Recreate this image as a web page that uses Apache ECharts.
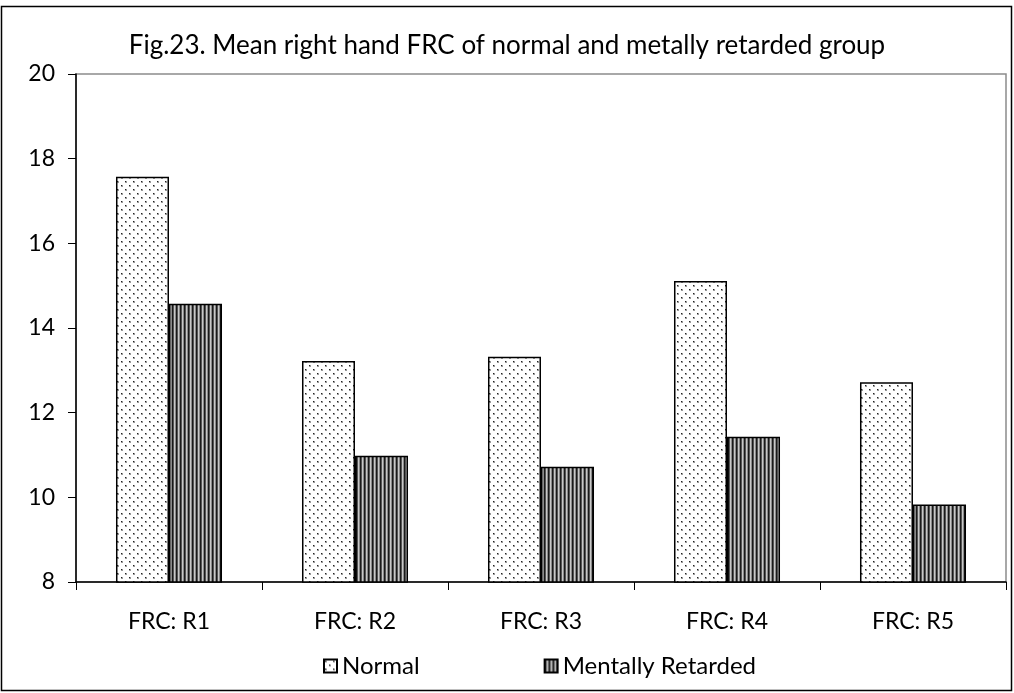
<!DOCTYPE html>
<html>
<head>
<meta charset="utf-8">
<script src="https://cdn.jsdelivr.net/npm/echarts@6/dist/echarts.min.js"></script>
<style>
  html, body { margin: 0; padding: 0; background: #fff; }
  #chart { width: 1014px; height: 693px; }
</style>
</head>
<body>
<div id="chart"></div>
<script>
// Mean right hand FRC by finger, two groups
const categories = ['FRC: R1', 'FRC: R2', 'FRC: R3', 'FRC: R4', 'FRC: R5'];
const normalValues = [17.57, 13.22, 13.32, 15.11, 12.72];
const retardedValues = [14.57, 10.98, 10.72, 11.43, 9.83];
const seriesNames = ['Normal', 'Mentally Retarded'];
const titleText = 'Fig.23. Mean right hand FRC of normal and metally retarded group';

const FONT = 'Lato, "Open Sans", sans-serif';

// Dotted fill: white tile with staggered dark dots
function dotPattern() {
  const c = document.createElement('canvas');
  c.width = 8; c.height = 8;
  const g = c.getContext('2d');
  g.fillStyle = '#ffffff';
  g.fillRect(0, 0, 8, 8);
  g.fillStyle = '#9a9a9a';
  g.fillRect(1, 1, 2, 2);
  g.fillRect(5, 5, 2, 2);
  g.fillStyle = '#222222';
  g.fillRect(1, 1, 1, 1);
  g.fillRect(5, 5, 1, 1);
  return c;
}

// Vertical stripe fill: alternating dark and light columns
function stripePattern() {
  const c = document.createElement('canvas');
  c.width = 4; c.height = 4;
  const g = c.getContext('2d');
  const cols = ['#1a1a1a', '#555555', '#c8c8c8', '#8a8a8a'];
  cols.forEach((col, i) => { g.fillStyle = col; g.fillRect(i, 0, 1, 4); });
  return c;
}

const dots = { image: dotPattern(), repeat: 'repeat' };
const stripes = { image: stripePattern(), repeat: 'repeat' };

const chart = echarts.init(document.getElementById('chart'), null, { renderer: 'canvas' });

chart.setOption({
  backgroundColor: '#ffffff',
  animation: false,
  title: {
    text: titleText,
    left: 'center',
    top: 28,
    textStyle: { fontFamily: FONT, fontSize: 26, fontWeight: 'normal', color: '#000' }
  },
  legend: {
    bottom: 10,
    left: 318,
    itemGap: 124,
    itemWidth: 13,
    itemHeight: 13,
    icon: 'rect',
    textStyle: { fontFamily: FONT, fontSize: 24, color: '#000' },
    data: seriesNames
  },
  grid: {
    left: 76, right: 8, top: 74, bottom: 111,
    show: true,
    borderColor: '#8c8c8c',
    borderWidth: 1.5
  },
  xAxis: {
    type: 'category',
    data: categories,
    axisLine: { lineStyle: { color: '#000', width: 1.5 } },
    axisTick: { show: true, length: 8, lineStyle: { color: '#000' } },
    axisLabel: { fontFamily: FONT, fontSize: 23, color: '#000', margin: 28 }
  },
  yAxis: {
    type: 'value',
    min: 8, max: 20, interval: 2,
    axisLine: { show: true, lineStyle: { color: '#000', width: 1.5 } },
    axisTick: { show: true, length: 8, lineStyle: { color: '#000' } },
    axisLabel: { fontFamily: FONT, fontSize: 23, color: '#000', margin: 21 },
    splitLine: { show: false }
  },
  series: [
    {
      name: seriesNames[0],
      type: 'bar',
      data: normalValues,
      barGap: '0%',
      barCategoryGap: '43%',
      itemStyle: { color: dots, borderColor: '#000', borderWidth: 1.5 }
    },
    {
      name: seriesNames[1],
      type: 'bar',
      data: retardedValues,
      itemStyle: { color: stripes, borderColor: '#000', borderWidth: 1.5 }
    }
  ],
  graphic: [
    {
      type: 'rect',
      shape: { x: 1.5, y: 6.5, width: 1010, height: 684 },
      style: { fill: 'none', stroke: '#000', lineWidth: 1.5 },
      silent: true,
      z: 100
    }
  ]
});
</script>
</body>
</html>
